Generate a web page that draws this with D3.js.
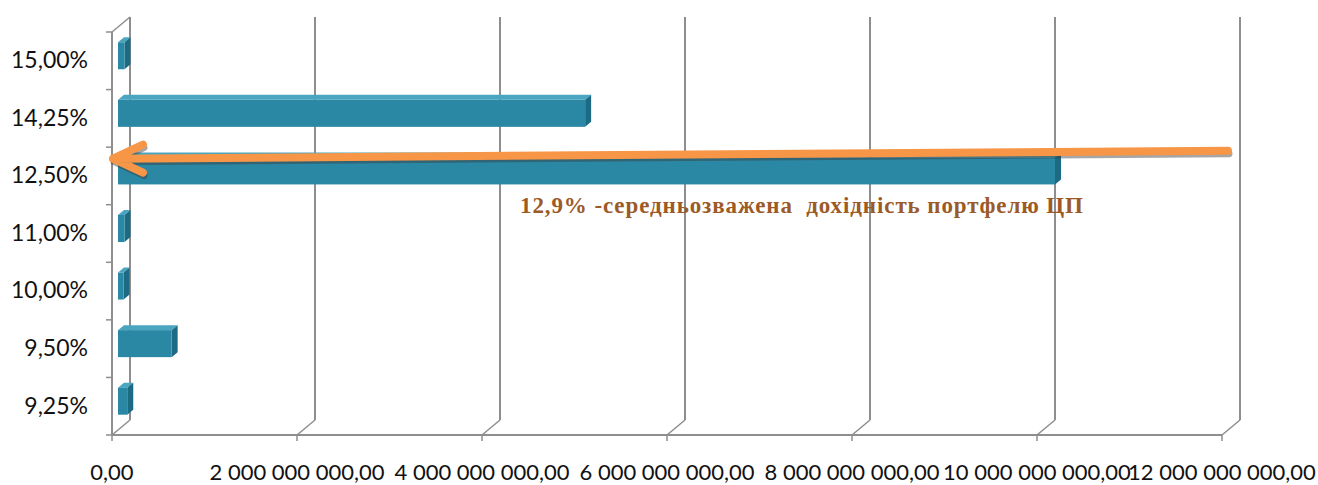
<!DOCTYPE html>
<html>
<head>
<meta charset="utf-8">
<script src="https://cdn.jsdelivr.net/npm/d3@7/dist/d3.min.js"></script>
<style>
  body { margin: 0; background: #fff; }
  svg { display: block; }
</style>
</head>
<body>
<svg id="chart" width="1318" height="485"></svg>
<script>
// categories top to bottom, as in the picture
var categories = ["15,00%", "14,25%", "12,50%", "11,00%", "10,00%", "9,50%", "9,25%"];
// volume of securities per yield level
var volumes = [0.07e9, 5.05e9, 10.13e9, 0.07e9, 0.06e9, 0.58e9, 0.1e9];
var xTicks = [0, 2e9, 4e9, 6e9, 8e9, 10e9, 12e9];
var xTickLabels = ["0,00", "2 000 000 000,00", "4 000 000 000,00", "6 000 000 000,00",
  "8 000 000 000,00", "10 000 000 000,00", "12 000 000 000,00"];
var noteText = "12,9% -середньозважена  дохідність портфелю ЦП";

var svg = d3.select("#chart");

// front plane of the 3d box
var x = d3.scaleLinear().domain([0, 12e9]).range([112, 1222]);
var y = d3.scaleBand().domain(categories).range([32, 435]);

// depth of the box (back wall offset) and of the bars
var depthX = 18, depthY = -15;
var barOffX = 6, barOffY = -5;   // bars start a third into the box
var barDepX = 6, barDepY = -5;   // bar thickness in depth
var barH = 27;

var gridColor = "#8e8e8e";

// back wall gridlines
var grid = svg.append("g").attr("class", "grid");
grid.selectAll("line.back")
  .data(xTicks)
  .enter().append("line")
  .attr("x1", function(d) { return x(d) + depthX; })
  .attr("x2", function(d) { return x(d) + depthX; })
  .attr("y1", y.range()[0] + depthY)
  .attr("y2", y.range()[1] + depthY)
  .attr("stroke", gridColor).attr("stroke-width", 2);

// floor diagonals
grid.selectAll("line.floor")
  .data(xTicks)
  .enter().append("line")
  .attr("x1", function(d) { return x(d); })
  .attr("x2", function(d) { return x(d) + depthX; })
  .attr("y1", y.range()[1])
  .attr("y2", y.range()[1] + depthY)
  .attr("stroke", gridColor).attr("stroke-width", 1.5);

// left wall top diagonal
grid.append("line")
  .attr("x1", x(0)).attr("y1", y.range()[0])
  .attr("x2", x(0) + depthX).attr("y2", y.range()[0] + depthY)
  .attr("stroke", gridColor).attr("stroke-width", 1.5);

// front axes
var axes = svg.append("g").attr("class", "axes");
axes.append("line")
  .attr("x1", x(0)).attr("x2", x(0))
  .attr("y1", y.range()[0]).attr("y2", y.range()[1])
  .attr("stroke", gridColor).attr("stroke-width", 2);
axes.append("line")
  .attr("x1", x(0)).attr("x2", x(12e9))
  .attr("y1", y.range()[1]).attr("y2", y.range()[1])
  .attr("stroke", gridColor).attr("stroke-width", 2);

// y ticks at band boundaries
var yBounds = categories.map(function(c) { return y(c); }).concat([y.range()[1]]);
axes.selectAll("line.ytick")
  .data(yBounds)
  .enter().append("line")
  .attr("x1", x(0) - 6).attr("x2", x(0))
  .attr("y1", function(d) { return d; })
  .attr("y2", function(d) { return d; })
  .attr("stroke", gridColor).attr("stroke-width", 1.5);

axes.selectAll("line.xtick")
  .data(xTicks)
  .enter().append("line")
  .attr("x1", function(d) { return x(d); })
  .attr("x2", function(d) { return x(d); })
  .attr("y1", y.range()[1]).attr("y2", y.range()[1] + 6)
  .attr("stroke", gridColor).attr("stroke-width", 1.5);

// category labels
svg.append("g").selectAll("text")
  .data(categories)
  .enter().append("text")
  .attr("x", 88)
  .attr("y", function(d) { return y(d) + y.bandwidth() / 2; })
  .attr("dy", "0.32em")
  .attr("text-anchor", "end")
  .attr("font-family", "Lato, sans-serif")
  .attr("font-size", 23)
  .attr("fill", "#111")
  .text(function(d) { return d; });

// value labels
svg.append("g").selectAll("text")
  .data(xTicks)
  .enter().append("text")
  .attr("x", function(d) { return x(d); })
  .attr("y", 480)
  .attr("text-anchor", "middle")
  .attr("font-family", "Lato, sans-serif")
  .attr("font-size", 22)
  .attr("fill", "#111")
  .text(function(d, i) { return xTickLabels[i]; });

// 3d bars
var bars = svg.append("g").attr("class", "bars")
  .selectAll("g")
  .data(categories)
  .enter().append("g");

function barGeom(c, i) {
  var x0 = x(0) + barOffX;
  var x1 = x(volumes[i]) + barOffX;
  var yc = y(c) + y.bandwidth() / 2 + barOffY;
  return { x0: x0, x1: x1, top: yc - barH / 2, bot: yc + barH / 2 };
}

// top face
bars.append("path")
  .attr("d", function(c, i) {
    var g = barGeom(c, i);
    return "M" + g.x0 + "," + g.top + "L" + (g.x0 + barDepX) + "," + (g.top + barDepY) +
      "L" + (g.x1 + barDepX) + "," + (g.top + barDepY) + "L" + g.x1 + "," + g.top + "Z";
  })
  .attr("fill", "#4aa5c0");

// side face
bars.append("path")
  .attr("d", function(c, i) {
    var g = barGeom(c, i);
    return "M" + g.x1 + "," + g.top + "L" + (g.x1 + barDepX) + "," + (g.top + barDepY) +
      "L" + (g.x1 + barDepX) + "," + (g.bot + barDepY) + "L" + g.x1 + "," + g.bot + "Z";
  })
  .attr("fill", "#1d6a84");

// front face
bars.append("rect")
  .attr("x", function(c, i) { return barGeom(c, i).x0; })
  .attr("y", function(c, i) { return barGeom(c, i).top; })
  .attr("width", function(c, i) { var g = barGeom(c, i); return g.x1 - g.x0; })
  .attr("height", barH)
  .attr("fill", "#2b88a5");

// arrow for weighted average yield (sits between 14,25% and 12,50%)
var arrowY = y("12,50%") + y.bandwidth() * 0.2;
var arrowTipX = x(0) + 1;
var arrowEndX = x(12e9) + 6;
var ann = svg.append("g").attr("class", "annotation");

function arrowPath(dx, dy) {
  var p = d3.path();
  p.moveTo(arrowEndX + dx, arrowY - 8 + dy);
  p.lineTo(arrowTipX + dx, arrowY + dy);
  p.moveTo(arrowTipX + 30 + dx, arrowY - 14 + dy);
  p.lineTo(arrowTipX + dx, arrowY + dy);
  p.lineTo(arrowTipX + 30 + dx, arrowY + 14 + dy);
  return p.toString();
}

ann.append("path")
  .attr("d", arrowPath(1, 3))
  .attr("fill", "none")
  .attr("stroke", "#3a3a3a")
  .attr("stroke-opacity", 0.45)
  .attr("stroke-width", 7)
  .attr("stroke-linecap", "round")
  .attr("stroke-linejoin", "round");

ann.append("path")
  .attr("d", arrowPath(0, 0))
  .attr("fill", "none")
  .attr("stroke", "#f79646")
  .attr("stroke-width", 8)
  .attr("stroke-linecap", "round")
  .attr("stroke-linejoin", "round");

ann.append("text")
  .attr("x", 520)
  .attr("y", y("11,00%") + 8)
  .attr("font-family", "Liberation Serif, serif")
  .attr("font-size", 23)
  .attr("font-weight", "bold")
  .attr("fill", "#9c5a27")
  .attr("textLength", 563)
  .attr("lengthAdjust", "spacing")
  .attr("xml:space", "preserve")
  .text(noteText);
</script>
</body>
</html>
